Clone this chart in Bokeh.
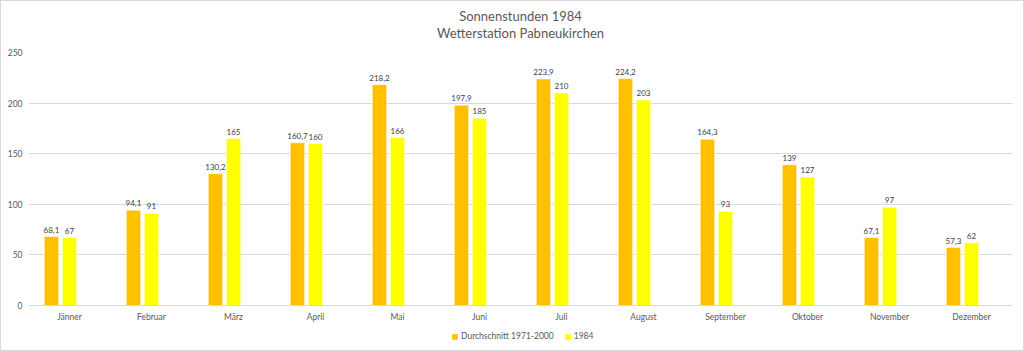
from bokeh.plotting import figure
from bokeh.models import ColumnDataSource, Legend, LegendItem, FactorRange, Label
from bokeh.layouts import column
from bokeh.transform import dodge
from bokeh.core.properties import value
from bokeh.embed import file_html
from bokeh.resources import INLINE

months = ["Jänner", "Februar", "März", "April", "Mai", "Juni", "Juli", "August",
          "September", "Oktober", "November", "Dezember"]
avg_1971_2000 = [68.1, 94.1, 130.2, 160.7, 218.2, 197.9, 223.9, 224.2, 164.3, 139, 67.1, 57.3]
year_1984 = [67, 91, 165, 160, 166, 185, 210, 203, 93, 127, 97, 62]
series_names = ["Durchschnitt 1971-2000", "1984"]
title_lines = ["Sonnenstunden 1984", "Wetterstation Pabneukirchen"]
y_ticks = [0, 50, 100, 150, 200, 250]

def fmt(v):
    s = ("%g" % v)
    return s.replace(".", ",")

src = ColumnDataSource(dict(
    month=months,
    a=avg_1971_2000,
    b=year_1984,
    a_lbl=[fmt(v) for v in avg_1971_2000],
    b_lbl=[fmt(v) for v in year_1984],
))

FONT = "Lato"
TXT = "#595959"
W = 1022
c_avg = "#FFC000"
c_84 = "#FFFF00"
off_a = -0.22
off_b = 0.0
bw = 0.175

# ---- title strip ----
th = 44
tp = figure(width=W, height=th, x_range=(0, 1), y_range=(0, th), min_border=0,
            output_backend="svg", toolbar_location=None,
            x_axis_location=None, y_axis_location=None)
tp.grid.visible = False
tp.outline_line_color = None
tp.add_layout(Label(x=0.5, y=th - 14, text=title_lines[0], text_align="center",
                    text_baseline="middle", text_font=FONT, text_font_size="13px",
                    text_color=TXT))
tp.add_layout(Label(x=0.5, y=th - 31, text=title_lines[1], text_align="center",
                    text_baseline="middle", text_font=FONT, text_font_size="13px",
                    text_color=TXT))

# ---- main chart ----
p = figure(x_range=FactorRange(*months), y_range=(0, 250),
           frame_width=984, frame_height=253,
           output_backend="svg", toolbar_location=None,
           min_border_left=27, min_border_right=11, min_border_top=7, min_border_bottom=24)

ra = p.vbar(x=dodge("month", off_a, range=p.x_range), top="a", width=bw, source=src,
            fill_color=c_avg, line_color="white", line_width=0.5)
rb = p.vbar(x=dodge("month", off_b, range=p.x_range), top="b", width=bw, source=src,
            fill_color=c_84, line_color="white", line_width=0.5)

p.text(x=dodge("month", off_a, range=p.x_range), y="a", text="a_lbl", source=src,
       text_align="center", text_baseline="bottom", y_offset=-4,
       text_font=value(FONT), text_font_size="8px", text_color="#404040")
p.text(x=dodge("month", off_b, range=p.x_range), y="b", text="b_lbl", source=src,
       text_align="center", text_baseline="bottom", y_offset=-4,
       text_font=value(FONT), text_font_size="8px", text_color="#404040")

p.outline_line_color = None
p.xgrid.grid_line_color = None
p.ygrid.grid_line_color = "#d9d9d9"
p.ygrid.grid_line_width = 1
p.yaxis.ticker = y_ticks
p.yaxis.axis_line_color = None
p.yaxis.major_tick_line_color = None
p.yaxis.minor_tick_line_color = None
p.yaxis.major_tick_out = 0
p.yaxis.major_tick_in = 0
p.yaxis.major_label_standoff = 6
p.yaxis.major_label_text_font = FONT
p.yaxis.major_label_text_font_size = "8.5px"
p.yaxis.major_label_text_color = TXT

p.xaxis.axis_line_color = "#d9d9d9"
p.xaxis.major_tick_line_color = None
p.xaxis.minor_tick_line_color = None
p.xaxis.major_tick_out = 0
p.xaxis.major_tick_in = 0
p.xaxis.major_label_standoff = 6
p.xaxis.major_label_text_font = FONT
p.xaxis.major_label_text_font_size = "8.5px"
p.xaxis.major_label_text_color = TXT

# ---- legend strip ----
lh = 21
lp = figure(width=W, height=lh, x_range=FactorRange(*months), y_range=(1000, 1001),
            min_border=0, output_backend="svg", toolbar_location=None,
            x_axis_location=None, y_axis_location=None)
lp.grid.visible = False
lp.outline_line_color = None
la = lp.vbar(x="month", top="a", width=bw, source=src, fill_color=c_avg, line_color=None)
lb = lp.vbar(x="month", top="b", width=bw, source=src, fill_color=c_84, line_color=None)
legend = Legend(items=[LegendItem(label=series_names[0], renderers=[la]),
                       LegendItem(label=series_names[1], renderers=[lb])],
                orientation="horizontal", location=(423, 9))
legend.label_text_font = FONT
legend.label_text_font_size = "8.5px"
legend.label_text_color = TXT
legend.label_height = 9
legend.glyph_width = 7
legend.glyph_height = 7
legend.label_standoff = 3
legend.spacing = 10
legend.padding = 0
legend.margin = 0
legend.border_line_color = None
legend.background_fill_alpha = 0
lp.add_layout(legend, "center")

layout = column(tp, p, lp, spacing=0)
layout.styles = {"border": "1px solid #d9d9d9"}

open("out.html", "w").write(file_html(layout, INLINE))
